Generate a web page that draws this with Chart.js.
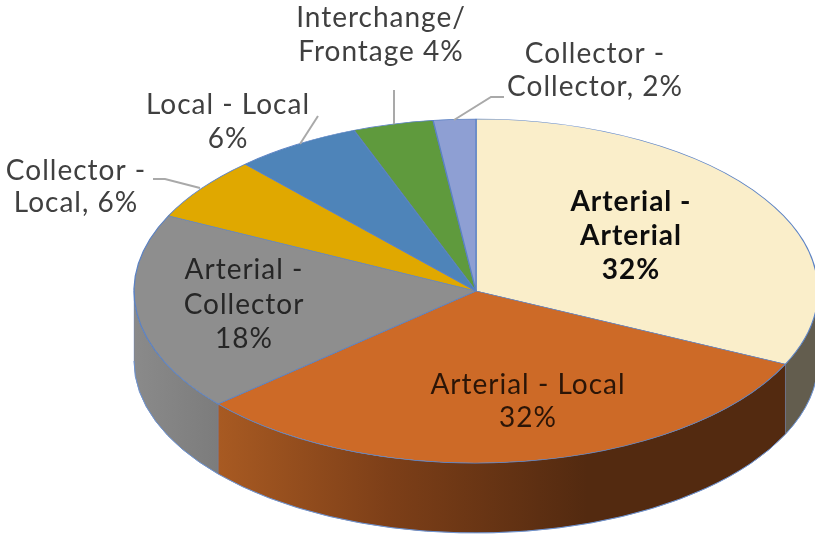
<!DOCTYPE html>
<html>
<head>
<meta charset="utf-8">
<style>html,body{margin:0;padding:0;background:#fff;overflow:hidden}canvas{display:block}</style>
<script src="https://cdn.jsdelivr.net/npm/chart.js@4"></script>
</head>
<body>
<canvas id="c" width="815" height="534"></canvas>
<script>
const categories = ['Arterial - Arterial','Arterial - Local','Arterial - Collector','Collector - Local','Local - Local','Interchange/ Frontage','Collector - Collector'];
const shares = [32,31.6,18.6,6,6,3.8,2];
const sliceColors = ['#faeeca','#cd6a27','#8e8e8e','#e0a800','#4e84b9','#5f9a3d','#8e9fd3'];

const FONT = 'Lato, sans-serif';
const SIZE = 28;
const ELL = {x:476, y:291, rx:342, ry:172, depth:70};
const wallStops = [
  [[0,'#635d4e'],[1,'#635d4e']],
  [[0,'#532a10'],[0.35,'#532a10'],[0.7,'#7d3f18'],[1,'#a85a22']],
  [[0,'#7c7c7c'],[0.7,'#868686'],[1,'#8a8a8a']]
];
const textBlocks = [
  {lines:['Interchange/','Frontage 4%'], x:381, y:[18,52], color:'#404040'},
  {lines:['Collector -','Collector, 2%'], x:595, y:[54,87], color:'#404040'},
  {lines:['Local - Local','6%'], x:228, y:[105,139], color:'#404040'},
  {lines:['Collector -','Local, 6%'], x:76, y:[171,203], color:'#404040'},
  {lines:['Arterial -','Arterial','32%'], x:631, y:[202,236,270], color:'#0d0d0d', bold:true},
  {lines:['Arterial -','Collector','18%'], x:244, y:[270,305,339], color:'#262626'},
  {lines:['Arterial - Local','32%'], x:528, y:[385,418], color:'#2b1507'}
];
const leaders = [
  [[318,116],[300,144]],
  [[153,179],[165,179],[200,188]],
  [[394,90],[394,124]],
  [[504,97],[491,97],[454,120]]
];

function pt(a){return [ELL.x+ELL.rx*Math.cos(a), ELL.y+ELL.ry*Math.sin(a)];}

const pie3d = {
  id:'pie3d',
  beforeDatasetsDraw(chart){
    const ctx = chart.ctx;
    const arcs = chart.getDatasetMeta(0).data;
    ctx.save();
    arcs.forEach((arc,idx)=>{
      const p = arc.getProps(['startAngle','endAngle'],true);
      const s = Math.max(p.startAngle,0), e = Math.min(p.endAngle,Math.PI);
      if(e<=s) return;
      const g = ctx.createLinearGradient(pt(s)[0],0,pt(e)[0],0);
      wallStops[idx].forEach(v=>g.addColorStop(v[0],v[1]));
      ctx.beginPath();
      ctx.ellipse(ELL.x,ELL.y,ELL.rx,ELL.ry,0,s,e,false);
      ctx.ellipse(ELL.x,ELL.y+ELL.depth,ELL.rx,ELL.ry,0,e,s,true);
      ctx.closePath();
      ctx.fillStyle = g;
      ctx.fill();
      ctx.strokeStyle = 'rgba(91,130,196,0.35)';
      ctx.lineWidth = 1;
      ctx.stroke();
      ctx.beginPath();
      ctx.ellipse(ELL.x,ELL.y+ELL.depth,ELL.rx,ELL.ry,0,s,e,false);
      ctx.strokeStyle = '#6f93cf';
      ctx.stroke();
    });
    ctx.restore();
    const a = arcs[0];
    const R = a.outerRadius;
    ctx.save();
    ctx.translate(ELL.x,ELL.y);
    ctx.scale(ELL.rx/R,ELL.ry/R);
    ctx.translate(-a.x,-a.y);
  },
  afterDatasetsDraw(chart){
    const ctx = chart.ctx;
    ctx.restore();
    ctx.save();
    ctx.strokeStyle = '#a9a9a9';
    ctx.lineWidth = 2;
    leaders.forEach(l=>{
      ctx.beginPath();
      l.forEach((q,i)=> i?ctx.lineTo(q[0],q[1]):ctx.moveTo(q[0],q[1]));
      ctx.stroke();
    });
    ctx.textAlign='center';
    ctx.textBaseline='middle';
    ctx.letterSpacing='1px';
    textBlocks.forEach(b=>{
      ctx.font = (b.bold?'bold ':'')+SIZE+'px '+FONT;
      ctx.fillStyle = b.color;
      b.lines.forEach((t,i)=>ctx.fillText(t,b.x,b.y[i]));
    });
    ctx.restore();
  }
};

new Chart(document.getElementById('c'),{
  type:'pie',
  data:{labels:categories,datasets:[{data:shares,backgroundColor:sliceColors,borderColor:'#5b82c4',borderWidth:1,clip:false}]},
  options:{responsive:false,animation:false,layout:{padding:0},
    plugins:{legend:{display:false},tooltip:{enabled:false},title:{display:false}}},
  plugins:[pie3d]
});
</script>
</body>
</html>
